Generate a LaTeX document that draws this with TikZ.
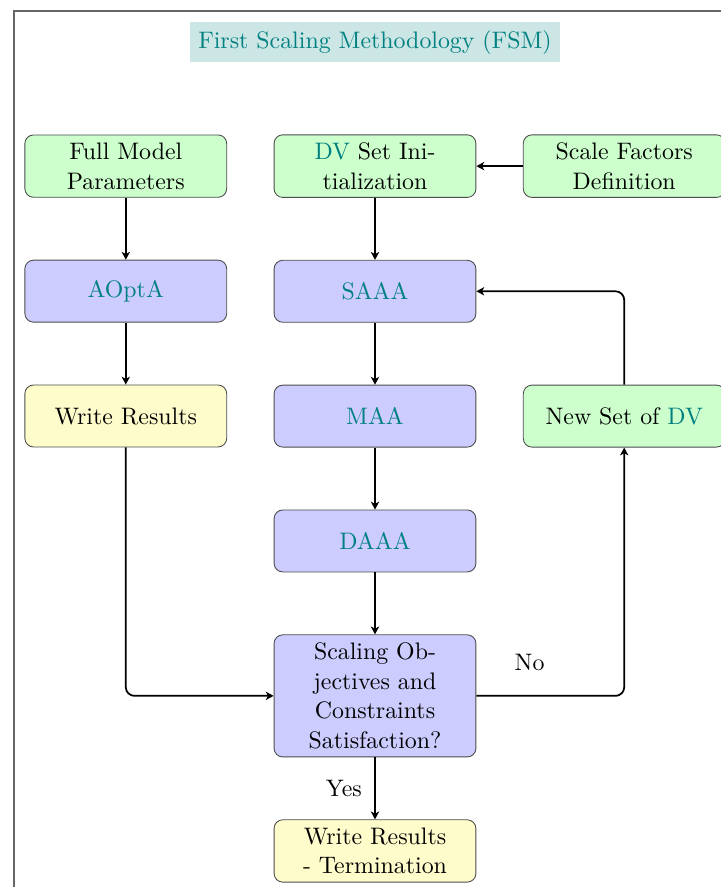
\documentclass[tikz,border=0pt,11pt]{standalone}
\usetikzlibrary{positioning,arrows.meta}

\begin{document}
\begin{tikzpicture}[->,>={Stealth[length=3.6pt,width=3.8pt,inset=1pt]},thick,node distance=1cm and 0.75cm,minimum
          height=1cm,box node/.style={rectangle,rounded corners,draw=black!70,thin,text width=3cm,align=center},
          green node/.style={box node,fill=green!20},blue node/.style={box node,fill=blue!20},
          yellow node/.style={box node,fill=yellow!20},title node/.style={fill=teal!20,text=teal,minimum height=0pt}]

  \useasboundingbox (-6.05,2.68) rectangle (5.58,-11.63);
  \draw[-,black!60,line width=0.8pt] (-5.82,2.5) rectangle (6.5,-12.5);

  \node[title node] (0) at (0,2) {First Scaling Methodology (FSM)};
  \node[green node] (1) at (0,0) {\textcolor{teal}{DV} Set Initialization};
  \node[green node] (2) [left=of 1] {Full Model Parameters};
  \node[green node] (3) [right=of 1] {Scale Factors Definition};
  \node[blue node] (4) [below=of 1] {\textcolor{teal}{SAAA}};
  \node[blue node] (5) [below=of 2] {\textcolor{teal}{AOptA}};
  \node[yellow node] (6) [below=of 5] {Write Results};
  \node[blue node] (7) [below=of 4] {\textcolor{teal}{MAA}};
  \node[green node] (8) [right=of 7] {New Set of \textcolor{teal}{DV}};
  \node[blue node] (9) [below=of 7] {\textcolor{teal}{DAAA}};
  \node[blue node] (10) [below=of 9] {Scaling Objectives and Constraints Satisfaction?};
  \node[yellow node] (11) [below=of 10] {Write Results\\- Termination};
  \path
  (2) edge (5)
  (5) edge (6)
  (3) edge (1)
  (1) edge (4)
  (4) edge (7)
  (7) edge (9)
  (9) edge (10)
  (10) edge node[left=2pt] {Yes} (11);
  \draw[rounded corners] (6) |- (10);
  \draw[rounded corners] (10) -| node[pos=0.18,above=0.5pt] {No} (8);
  \draw[rounded corners] (8) |- (4);
\end{tikzpicture}
\end{document}
